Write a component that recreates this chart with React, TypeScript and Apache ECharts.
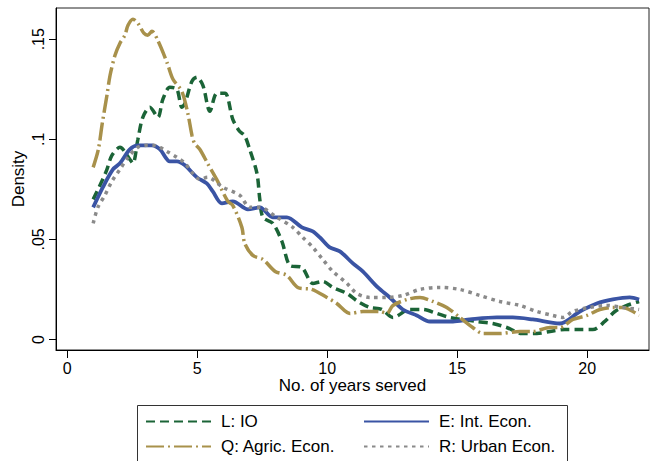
import React, { useEffect, useRef } from "react";
import * as echarts from "echarts";

// Axis ticks
const xTicks = [0, 5, 10, 15, 20];
const yTicks = [0, 0.05, 0.1, 0.15];

// L: IO
const ioYears = [1.0, 1.37, 1.53, 1.72, 2.03, 2.41, 2.53, 2.72, 2.91, 3.18, 3.49, 3.68, 3.95, 4.22, 4.41, 4.53, 4.8, 4.99, 5.22, 5.49, 5.76, 6.07, 6.37, 6.63, 6.82, 7.02, 7.3, 7.41, 7.53, 7.91, 8.26, 8.57, 9.03, 9.45, 9.83, 10.22, 10.76, 11.18, 11.64, 12.1, 12.53, 13.18, 13.68, 14.22, 14.72, 15.76, 16.37, 16.91, 17.49, 18.07, 18.57, 19.14, 19.72, 20.22, 20.68, 21.07, 21.53, 22.0];
const ioDensity = [0.07, 0.08, 0.085, 0.092, 0.096, 0.09, 0.088, 0.1, 0.111, 0.116, 0.111, 0.12, 0.126, 0.125, 0.116, 0.118, 0.129, 0.131, 0.127, 0.114, 0.123, 0.123, 0.11, 0.104, 0.102, 0.095, 0.083, 0.07, 0.061, 0.058, 0.049, 0.037, 0.036, 0.028, 0.029, 0.026, 0.023, 0.019, 0.016, 0.015, 0.011, 0.015, 0.015, 0.013, 0.011, 0.009, 0.008, 0.006, 0.003, 0.003, 0.004, 0.005, 0.005, 0.005, 0.009, 0.014, 0.017, 0.019];

// E: Int. Econ.
const intYears = [1.0, 1.37, 1.76, 2.03, 2.41, 2.72, 3.26, 3.57, 3.95, 4.22, 4.53, 4.99, 5.37, 5.6, 5.95, 6.37, 6.95, 7.41, 7.91, 8.45, 9.03, 9.45, 9.72, 10.1, 10.49, 10.99, 11.37, 11.95, 12.41, 12.91, 13.45, 13.95, 14.84, 15.49, 16.53, 17.14, 17.91, 18.95, 19.72, 20.37, 20.99, 21.64, 22.0];
const intDensity = [0.066, 0.076, 0.085, 0.088, 0.095, 0.097, 0.097, 0.095, 0.089, 0.089, 0.087, 0.081, 0.078, 0.074, 0.068, 0.069, 0.065, 0.066, 0.061, 0.061, 0.056, 0.054, 0.051, 0.046, 0.044, 0.038, 0.034, 0.026, 0.021, 0.015, 0.012, 0.009, 0.009, 0.01, 0.011, 0.011, 0.01, 0.008, 0.014, 0.018, 0.02, 0.021, 0.02];

// Q: Agric. Econ.
const agrYears = [1.0, 1.2, 1.35, 1.53, 1.65, 1.84, 2.03, 2.22, 2.34, 2.53, 2.72, 2.95, 3.1, 3.26, 3.5, 3.85, 4.07, 4.41, 4.64, 4.8, 4.9, 5.1, 5.4, 5.75, 6.18, 6.37, 6.72, 6.83, 7.14, 7.53, 8.0, 8.45, 8.87, 9.41, 9.99, 10.37, 10.88, 11.38, 12.03, 12.3, 12.53, 13.07, 13.57, 14.07, 14.6, 15.1, 15.6, 15.99, 16.64, 17.41, 17.91, 18.57, 18.95, 19.45, 19.99, 20.49, 20.99, 21.37, 21.76, 22.0];
const agrDensity = [0.086, 0.095, 0.108, 0.122, 0.132, 0.142, 0.148, 0.152, 0.157, 0.16, 0.158, 0.153, 0.152, 0.154, 0.149, 0.138, 0.13, 0.124, 0.113, 0.102, 0.098, 0.095, 0.088, 0.08, 0.069, 0.067, 0.056, 0.048, 0.042, 0.04, 0.034, 0.032, 0.026, 0.025, 0.021, 0.018, 0.013, 0.014, 0.014, 0.013, 0.017, 0.02, 0.021, 0.019, 0.016, 0.011, 0.006, 0.003, 0.003, 0.004, 0.004, 0.006, 0.006, 0.01, 0.012, 0.015, 0.016, 0.016, 0.014, 0.012];

// R: Urban Econ.
const urbYears = [1.0, 1.18, 1.45, 1.72, 2.03, 2.34, 2.72, 3.07, 3.3, 3.57, 3.83, 4.22, 4.53, 4.83, 5.1, 5.4, 5.99, 6.64, 7.03, 7.41, 8.07, 8.68, 9.06, 9.45, 9.83, 10.22, 10.76, 11.14, 11.64, 12.3, 12.91, 13.56, 14.33, 15.1, 15.87, 16.64, 17.41, 18.07, 18.68, 19.06, 19.45, 20.1, 20.76, 21.37, 22.0];
const urbDensity = [0.058, 0.066, 0.072, 0.079, 0.085, 0.091, 0.096, 0.097, 0.097, 0.096, 0.094, 0.091, 0.088, 0.083, 0.08, 0.081, 0.076, 0.072, 0.066, 0.066, 0.061, 0.056, 0.051, 0.046, 0.04, 0.034, 0.028, 0.023, 0.021, 0.021, 0.022, 0.025, 0.026, 0.025, 0.022, 0.019, 0.017, 0.014, 0.012, 0.011, 0.014, 0.016, 0.017, 0.016, 0.015];

const zip = (xs: number[], ys: number[]) => xs.map((x, i) => [x, ys[i]]);

const FONT = '"Liberation Sans", Arial, Helvetica, sans-serif';
const INK = "#000";

export default function App() {
  const ref = useRef<HTMLDivElement>(null);

  useEffect(() => {
    if (!ref.current) return;
    const chart = echarts.init(ref.current, null, { renderer: "svg" });

    const line = (name: string, data: number[][], color: string, width: number, type: any) => ({
      name,
      type: "line",
      data,
      smooth: 0.3,
      symbol: "none",
      showSymbol: false,
      lineStyle: { color, width, type, cap: "butt" },
      itemStyle: { color },
      z: 3,
    });

    const legendText = { fontFamily: FONT, fontSize: 17, color: INK, lineHeight: 17, padding: [0, 0, 0, 5] };
    const legendBase = {
      orient: "vertical",
      top: 413,
      padding: 0,
      itemWidth: 65,
      itemHeight: 17,
      itemGap: 8,
      textStyle: legendText,
      selectedMode: false,
      // line-only keys: hide the marker drawn in the middle of each sample
      itemStyle: { color: "transparent", borderColor: "transparent", borderWidth: 0, opacity: 0 },
    };

    chart.setOption({
      animation: false,
      backgroundColor: "#fff",
      grid: {
        left: 56,
        right: 3,
        top: 8,
        bottom: 111,
        outerBoundsMode: "none",
        containLabel: false,
        show: true,
        borderColor: "#222",
        borderWidth: 1,
        backgroundColor: "transparent",
      },
      xAxis: {
        type: "value",
        min: -0.43,
        max: 22.38,
        name: "No. of years served",
        nameLocation: "middle",
        nameGap: 27,
        nameMoveOverlap: false,
        nameTextStyle: { fontFamily: FONT, fontSize: 17, color: INK },
        axisLine: { show: true, onZero: false, lineStyle: { color: INK, width: 1 } },
        axisTick: { show: true, customValues: xTicks, length: 8, lineStyle: { color: INK } },
        axisLabel: {
          customValues: xTicks,
          margin: 10,
          fontFamily: FONT,
          fontSize: 16,
          color: INK,
          formatter: (v: number) => String(v),
        },
        splitLine: { show: false },
      },
      yAxis: {
        type: "value",
        min: -0.00525,
        max: 0.1656,
        name: "Density",
        nameLocation: "middle",
        nameRotate: 90,
        nameGap: 29,
        nameMoveOverlap: false,
        nameTextStyle: { fontFamily: FONT, fontSize: 17, color: INK },
        axisLine: { show: true, onZero: false, lineStyle: { color: INK, width: 1 } },
        axisTick: { show: true, customValues: yTicks, length: 7, lineStyle: { color: INK } },
        axisLabel: {
          customValues: yTicks,
          rotate: 90,
          margin: 10,
          fontFamily: FONT,
          fontSize: 16,
          color: INK,
          formatter: (v: number) => (v === 0 ? "0" : String(v).replace(/^0\./, ".")),
        },
        splitLine: { show: false },
      },
      legend: [
        { ...legendBase, data: ["L: IO", "Q: Agric. Econ."], left: 145 },
        { ...legendBase, data: ["E: Int. Econ.", "R: Urban Econ."], left: 363 },
      ],
      graphic: [
        {
          type: "rect",
          shape: { x: 137.5, y: 405.5, width: 430, height: 80 },
          style: { fill: "none", stroke: "#333", lineWidth: 1 },
          silent: true,
        },
      ],
      series: [
        line("L: IO", zip(ioYears, ioDensity), "#1b6437", 3.5, [9, 5]),
        line("E: Int. Econ.", zip(intYears, intDensity), "#3a54a4", 3.8, "solid"),
        line("Q: Agric. Econ.", zip(agrYears, agrDensity), "#a8914b", 3.5, [18, 4, 2, 4]),
        line("R: Urban Econ.", zip(urbYears, urbDensity), "#8a8a8a", 3.5, [3.5, 4.5]),
      ],
    });

    return () => chart.dispose();
  }, []);

  return (
    <div
      ref={ref}
      style={{ position: "fixed", left: 0, top: 0, width: 652, height: 461, background: "#fff" }}
    />
  );
}
